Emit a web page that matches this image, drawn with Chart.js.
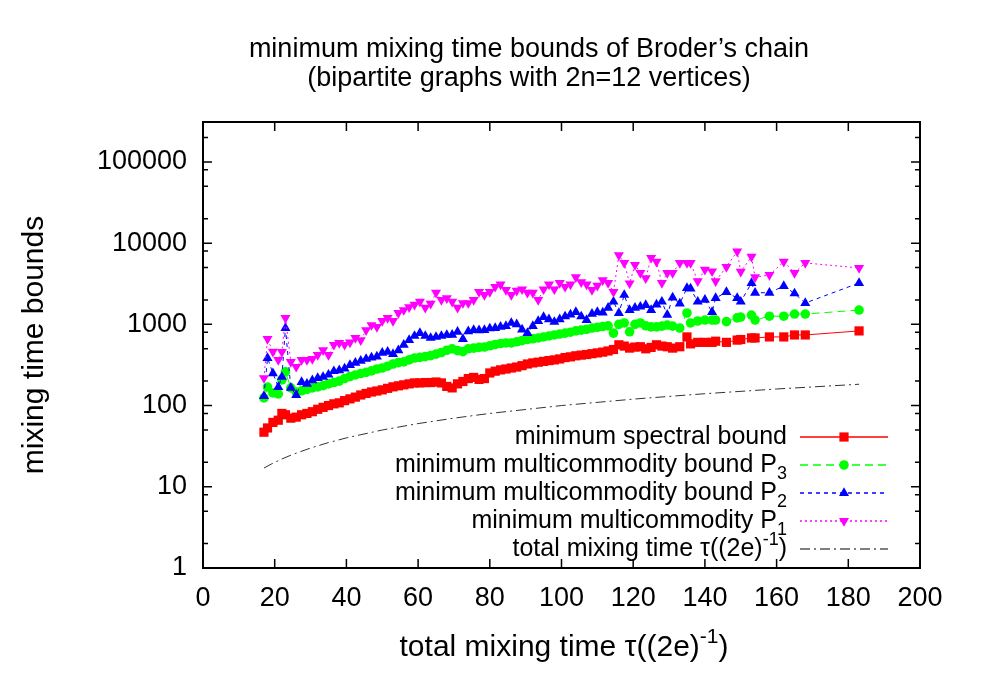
<!DOCTYPE html>
<html>
<head>
<meta charset="utf-8">
<title>minimum mixing time bounds of Broder's chain</title>
<script src="https://cdn.jsdelivr.net/npm/chart.js@4.4.1/dist/chart.umd.min.js"></script>
<style>
  html, body { margin: 0; padding: 0; background: #fff; }
  canvas { display: block; }
</style>
</head>
<body>
<canvas id="chart" width="994" height="696"></canvas>
<script>
// ---- data ----
// x: total mixing time tau((2e)^-1)
const mixTime = [
  17, 18, 19.5, 21, 22, 23, 24.5, 26, 27.5, 29,
  30.5, 32, 33.5, 35, 36.5, 38, 39.5, 41, 42.5, 44,
  45.5, 47, 48.5, 50, 51.5, 53, 54.5, 56, 57.5, 59,
  60.5, 62, 63.5, 65, 66.5, 68, 69.5, 71, 72.5, 74,
  75.5, 77, 78.5, 80, 81.5, 83, 84.5, 86, 87.5, 89,
  90.5, 92, 93.5, 95, 96.5, 98, 99.5, 101, 102.5, 104,
  105.5, 107, 108.5, 110, 111.5, 113, 114.5, 116, 117.5, 119,
  120.5, 122, 123.5, 125, 126.5, 128, 129.5, 131, 133, 135,
  136, 138, 140, 142, 143, 146, 149, 150, 153, 154,
  158, 162, 165, 168, 183
];

const spectral = [
  47, 53, 62, 66, 80, 77, 70, 72, 77, 80,
  84, 90, 95, 100, 105, 108, 115, 121, 127, 135,
  141, 147, 151, 156, 163, 170, 175, 180, 185, 190,
  190, 192, 192, 195, 190, 172, 165, 185, 198, 215,
  222, 210, 215, 252, 265, 275, 282, 290, 298, 310,
  325, 335, 342, 350, 358, 365, 375, 390, 398, 410,
  418, 425, 435, 445, 455, 470, 490, 560, 540, 510,
  525, 530, 500, 520, 560, 540, 530, 510, 530, 700,
  575, 600, 600, 600, 620, 600, 640, 650, 680, 680,
  700, 700, 740, 740, 830
];

const multiP3 = [
  124, 169, 143, 139, 207, 260, 165, 147, 152, 158,
  165, 170, 176, 185, 192, 200, 215, 228, 238, 248,
  256, 267, 282, 290, 305, 325, 338, 345, 365, 385,
  392, 400, 412, 430, 450, 480, 500, 475, 462, 500,
  510, 520, 525, 545, 565, 580, 590, 590, 610, 630,
  650, 665, 680, 700, 720, 740, 760, 780, 800, 830,
  850, 870, 900, 920, 940, 960, 780, 1000, 1040, 810,
  1000, 1040, 960, 930, 930, 950, 980, 950, 900, 1380,
  1040, 1100, 1130, 1130, 1130, 1080, 1200, 1230, 1300, 1130,
  1260, 1260, 1340, 1340, 1500
];

const multiP2 = [
  131, 385, 250, 169, 225, 900, 165, 135, 195, 185,
  205, 218, 225, 240, 265, 272, 285, 316, 335, 355,
  375, 390, 400, 445, 458, 430, 480, 560, 640, 720,
  780, 720, 680, 700, 720, 740, 745, 810, 660, 820,
  850, 845, 850, 890, 900, 930, 950, 1040, 1000, 860,
  780, 950, 1100, 1230, 1150, 1070, 1150, 1250, 1320, 1420,
  1250, 1130, 1350, 1420, 1400, 1600, 1900, 1380, 2300, 1500,
  1600, 1650, 1730, 1500, 1750, 1900, 1310, 2130, 1800, 2800,
  2750, 1900, 2000, 1420, 2100, 2500, 2100, 1900, 3230, 2450,
  2450, 2960, 2400, 1830, 3230
];

const multiP1 = [
  218, 660, 460, 364, 458, 1200, 345, 300, 364, 364,
  375, 420, 480, 420, 560, 590, 560, 600, 680, 640,
  850, 980, 930, 1100, 1200, 1100, 1380, 1500, 1630, 1750,
  1900, 1600, 1800, 2450, 2000, 2100, 1900, 1600, 1830, 1830,
  2000, 2500, 2300, 2500, 2900, 3100, 2650, 2300, 2600, 2700,
  2450, 2450, 2000, 2700, 3100, 2700, 3230, 2900, 3100, 3800,
  3300, 3100, 2650, 3000, 3500, 3230, 2500, 7100, 5700, 3200,
  5400, 4300, 3700, 6600, 5900, 3230, 4300, 4300, 5700, 5700,
  5700, 3400, 4700, 4500, 3400, 5100, 7900, 4450, 6800, 3800,
  4050, 5900, 4300, 5700, 4950
];

// total mixing time curve (dash-dot)
const totalX = [17, 19, 22, 25, 30, 35, 40, 50, 60, 70, 80, 100, 120, 140, 160, 183];
const totalY = [17, 19, 22, 25, 30, 35, 40, 50, 60, 70, 80, 100, 120, 140, 160, 183];

const xTicks = [0, 20, 40, 60, 80, 100, 120, 140, 160, 180, 200];
const yTicks = [1, 10, 100, 1000, 10000, 100000];
const yMinorSteps = [2, 5, 8];

// ---- look ----
const FAMILY = "'Liberation Sans', Arial, Helvetica, sans-serif";
const TITLE_FONT = "27px " + FAMILY;
const AXIS_FONT = "30px " + FAMILY;
const AXIS_SMALL = "21px " + FAMILY;
const KEY_FONT = "25px " + FAMILY;
const KEY_SMALL = "18px " + FAMILY;

const series = [
  { parts: [{ t: "minimum spectral bound" }], data: spectral, color: "rgb(255,0,0)", dash: [], style: "rect", r: 6.5, rot: 0 },
  { parts: [{ t: "minimum multicommodity bound P" }, { t: "3", s: 1 }], data: multiP3, color: "rgb(0,255,0)", dash: [8, 5], style: "circle", r: 4.8, rot: 0 },
  { parts: [{ t: "minimum multicommodity bound P" }, { t: "2", s: 1 }], data: multiP2, color: "rgb(0,0,255)", dash: [4, 4], style: "triangle", r: 5.8, rot: 0 },
  { parts: [{ t: "minimum multicommodity P" }, { t: "1", s: 1 }], data: multiP1, color: "rgb(255,0,255)", dash: [2, 3], style: "triangle", r: 5.8, rot: 180 }
];
const totalLabel = [{ t: "total mixing time \u03c4((2e)" }, { t: "-1", s: -1 }, { t: ")" }];

function toPoints(xs, ys) {
  return xs.map((x, i) => ({ x: x, y: ys[i] }));
}

// text with sub/superscripts
function richWidth(ctx, parts, big, small) {
  let w = 0;
  parts.forEach(p => {
    ctx.font = p.s ? small : big;
    w += ctx.measureText(p.t).width;
  });
  return w;
}

function drawRich(ctx, parts, x, y, align, big, small, shift) {
  const w = richWidth(ctx, parts, big, small);
  let cx = x;
  if (align === "right") cx = x - w;
  if (align === "center") cx = x - w / 2;
  ctx.textAlign = "left";
  ctx.textBaseline = "middle";
  parts.forEach(p => {
    ctx.font = p.s ? small : big;
    let dy = 0;
    if (p.s === 1) dy = shift;
    if (p.s === -1) dy = -shift;
    ctx.fillText(p.t, cx, y + dy);
    cx += ctx.measureText(p.t).width;
  });
}

// ---- plugin: frame, inward ticks, titles, legend ----
const decor = {
  id: "decor",
  afterDraw(chart) {
    const ctx = chart.ctx;
    const a = chart.chartArea;
    const xs = chart.scales.x;
    const ys = chart.scales.y;
    ctx.save();

    // ticks
    ctx.strokeStyle = "#000";
    ctx.lineWidth = 1.5;
    ctx.beginPath();
    xTicks.forEach(v => {
      const px = xs.getPixelForValue(v);
      ctx.moveTo(px, a.bottom); ctx.lineTo(px, a.bottom - 9);
      ctx.moveTo(px, a.top); ctx.lineTo(px, a.top + 9);
    });
    yTicks.forEach(v => {
      const py = ys.getPixelForValue(v);
      ctx.moveTo(a.left, py); ctx.lineTo(a.left + 9, py);
      ctx.moveTo(a.right, py); ctx.lineTo(a.right - 9, py);
      yMinorSteps.forEach(m => {
        const val = v * m;
        if (val > ys.max) return;
        const q = ys.getPixelForValue(val);
        ctx.moveTo(a.left, q); ctx.lineTo(a.left + 5, q);
        ctx.moveTo(a.right, q); ctx.lineTo(a.right - 5, q);
      });
    });
    ctx.stroke();

    // frame
    ctx.lineWidth = 2;
    ctx.strokeRect(a.left, a.top, a.right - a.left, a.bottom - a.top);

    // titles
    ctx.fillStyle = "#000";
    ctx.font = TITLE_FONT;
    ctx.textAlign = "center";
    ctx.textBaseline = "middle";
    ctx.fillText("minimum mixing time bounds of Broder\u2019s chain", 529, 50);
    ctx.fillText("(bipartite graphs with 2n=12 vertices)", 529, 79);

    ctx.font = AXIS_FONT;
    ctx.save();
    ctx.translate(35, 345);
    ctx.rotate(-Math.PI / 2);
    ctx.fillText("mixing time bounds", 0, 0);
    ctx.restore();

    drawRich(ctx, totalLabel, 564, 648, "center", AXIS_FONT, AXIS_SMALL, 11);

    // legend: sample lines first, then markers, then text
    const rows = [437, 465, 493, 521, 549];
    const textRight = 787, lineL = 800, lineR = 888, mkX = 844;
    const keyLines = series.map(s => ({ color: s.color, dash: s.dash }));
    keyLines.push({ color: "rgb(85,85,85)", dash: [10, 4, 2, 4] });
    keyLines.forEach((k, i) => {
      ctx.save();
      ctx.lineWidth = 1.5;
      ctx.strokeStyle = k.color;
      ctx.setLineDash(k.dash.slice());
      ctx.beginPath();
      ctx.moveTo(lineL, rows[i]);
      ctx.lineTo(lineR, rows[i]);
      ctx.stroke();
      ctx.restore();
    });
    series.forEach((s, i) => {
      ctx.save();
      ctx.fillStyle = s.color;
      ctx.strokeStyle = s.color;
      Chart.helpers.drawPoint(ctx, { pointStyle: s.style, radius: s.r, rotation: s.rot, borderWidth: 0 }, mkX, rows[i]);
      ctx.restore();
    });
    ctx.fillStyle = "#000";
    series.forEach((s, i) => {
      drawRich(ctx, s.parts, textRight, rows[i], "right", KEY_FONT, KEY_SMALL, 9);
    });
    drawRich(ctx, totalLabel, textRight, rows[4], "right", KEY_FONT, KEY_SMALL, 9);

    ctx.restore();
  }
};

// ---- chart ----
const datasets = series.map((s, i) => ({
  label: s.parts.map(p => p.t).join(""),
  data: toPoints(mixTime, s.data),
  borderColor: s.color,
  backgroundColor: s.color,
  borderWidth: 1,
  borderDash: s.dash,
  pointStyle: s.style,
  pointRadius: s.r,
  pointRotation: s.rot,
  pointBorderWidth: 0,
  pointBackgroundColor: s.color,
  tension: 0,
  order: 5 - i
}));
datasets.push({
  label: "total mixing time",
  data: toPoints(totalX, totalY),
  borderColor: "#333",
  borderWidth: 1,
  borderDash: [10, 4, 2, 4],
  pointRadius: 0,
  tension: 0,
  order: 0
});

new Chart(document.getElementById("chart"), {
  type: "line",
  data: { datasets: datasets },
  options: {
    responsive: false,
    animation: false,
    events: [],
    layout: { padding: { top: 122, right: 74, left: 0, bottom: 0 } },
    plugins: {
      legend: { display: false },
      title: { display: false },
      tooltip: { enabled: false }
    },
    scales: {
      x: {
        type: "linear",
        min: 0,
        max: 200,
        afterBuildTicks: s => { s.ticks = xTicks.map(v => ({ value: v })); },
        ticks: { color: "#000", font: { family: FAMILY, size: 27 }, padding: 14, maxRotation: 0 },
        grid: { display: false, drawTicks: false },
        border: { display: false },
        afterFit: s => { s.height = 128; }
      },
      y: {
        type: "logarithmic",
        min: 1,
        max: 310000,
        afterBuildTicks: s => { s.ticks = yTicks.map(v => ({ value: v })); },
        ticks: { color: "#000", font: { family: FAMILY, size: 27 }, padding: 16, callback: v => String(v) },
        grid: { display: false, drawTicks: false },
        border: { display: false },
        afterFit: s => { s.width = 203; }
      }
    }
  },
  plugins: [decor]
});
</script>
</body>
</html>
